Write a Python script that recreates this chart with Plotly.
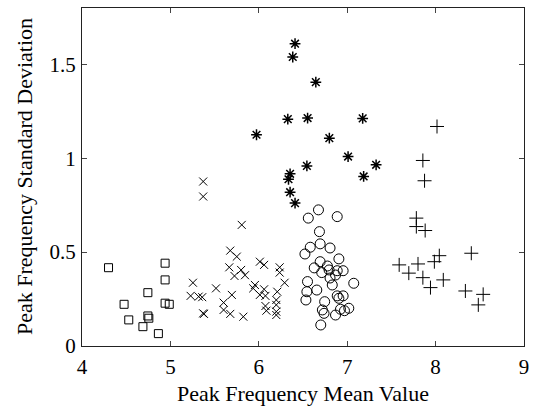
import plotly.graph_objects as go

sq_x = [4.30, 4.94, 4.94, 4.745, 4.476, 4.94, 4.987, 4.529, 4.745, 4.756, 4.689, 4.864]
sq_y = [0.417, 0.441, 0.352, 0.284, 0.222, 0.228, 0.222, 0.139, 0.160, 0.148, 0.103, 0.066]

xm_x = [5.371, 5.371, 5.807, 5.677, 5.751, 5.666, 5.800, 5.725, 5.844, 6.012, 6.060, 6.236,
        6.236, 6.292, 5.255, 5.516, 5.956, 5.937, 6.060, 6.012, 6.209, 5.229, 5.32, 5.36,
        5.695, 5.602, 6.075, 6.198, 6.075, 6.198, 5.602, 5.677, 6.086, 6.198, 5.37, 5.38,
        5.825, 6.198]
xm_y = [0.876, 0.796, 0.645, 0.508, 0.476, 0.419, 0.405, 0.373, 0.377, 0.449, 0.432, 0.419,
        0.391, 0.337, 0.337, 0.307, 0.325, 0.307, 0.302, 0.272, 0.289, 0.267, 0.263, 0.260,
        0.272, 0.231, 0.267, 0.245, 0.213, 0.219, 0.192, 0.171, 0.188, 0.183, 0.174, 0.171,
        0.156, 0.165]

ci_x = [6.675, 6.560, 6.887, 6.686, 6.582, 6.694, 6.522, 6.806, 6.906, 6.694, 6.627, 6.776,
        6.712, 6.795, 6.887, 6.954, 6.868, 6.806, 6.831, 6.551, 7.074, 6.544, 6.656, 6.533,
        6.887, 6.906, 6.954, 6.745, 6.719, 6.738, 6.924, 6.868, 6.969, 7.018, 6.701]
ci_y = [0.725, 0.681, 0.689, 0.609, 0.526, 0.544, 0.490, 0.522, 0.464, 0.449, 0.416, 0.426,
        0.391, 0.405, 0.401, 0.401, 0.378, 0.362, 0.325, 0.343, 0.334, 0.289, 0.298, 0.245,
        0.267, 0.254, 0.267, 0.236, 0.192, 0.174, 0.196, 0.165, 0.188, 0.201, 0.112]

as_x = [6.410, 6.384, 6.645, 6.328, 6.552, 7.175, 5.974, 6.798, 7.010, 7.327, 6.544, 7.186,
        6.354, 6.336, 6.354, 6.410]
as_y = [1.610, 1.539, 1.405, 1.208, 1.214, 1.212, 1.125, 1.107, 1.009, 0.965, 0.959, 0.903,
        0.917, 0.888, 0.819, 0.761]

pl_x = [8.016, 7.856, 7.875, 7.782, 7.782, 7.882, 8.042, 7.986, 8.404, 7.588, 7.801, 7.697,
        7.856, 8.087, 7.942, 8.337, 8.538, 8.483]
pl_y = [1.169, 0.988, 0.880, 0.681, 0.636, 0.615, 0.481, 0.449, 0.494, 0.432, 0.437, 0.388,
        0.364, 0.352, 0.311, 0.293, 0.275, 0.219]

x_ticks = [4, 5, 6, 7, 8, 9]
y_ticks = [0, 0.5, 1, 1.5]
y_tick_text = ["0", "0.5", "1", "1.5"]
x_title = "Peak Frequency Mean Value"
y_title = "Peak Frequency Standard Deviation"

fig = go.Figure()

def add(xs, ys, symbol, size, width=1):
    fig.add_trace(go.Scatter(
        x=xs, y=ys, mode="markers",
        marker=dict(symbol=symbol, size=size, color="black",
                    line=dict(color="black", width=width)),
        showlegend=False, hoverinfo="skip"))

add(sq_x, sq_y, "square-open", 8)
add(xm_x, xm_y, "x-thin-open", 8)
add(ci_x, ci_y, "circle-open", 10)
add(as_x, as_y, "asterisk-open", 9, 1.5)
add(pl_x, pl_y, "cross-thin-open", 10)

tick_font = dict(family="Liberation Serif", size=21, color="black")
title_font = dict(family="Liberation Serif", size=22, color="black")

fig.update_layout(
    width=536, height=406,
    margin=dict(l=82, r=7, t=7, b=60),
    paper_bgcolor="white", plot_bgcolor="white",
    font=tick_font,
    xaxis=dict(range=[4, 9], tickvals=x_ticks, ticks="inside", ticklen=5,
               showline=True, linecolor="#222", linewidth=1.3, mirror="ticks",
               showgrid=False, zeroline=False, ticklabeloverflow="allow",
               tickfont=tick_font, ticklabelstandoff=2),
    yaxis=dict(range=[0, 1.8], tickvals=y_ticks, ticktext=y_tick_text, ticks="inside", ticklen=5,
               showline=True, linecolor="#222", linewidth=1.3, mirror="ticks",
               showgrid=False, zeroline=False, tickfont=tick_font, ticklabelstandoff=1),
    annotations=[
        dict(text=x_title, font=title_font, showarrow=False,
             xref="paper", yref="paper", x=0.5, y=0, xanchor="center", yanchor="middle",
             yshift=-47),
        dict(text=y_title, font=title_font, showarrow=False, textangle=-90,
             xref="paper", yref="paper", x=0, y=0.5, xanchor="center", yanchor="middle",
             xshift=-58),
    ],
)

fig.write_html("out.html", config={"displayModeBar": False},
               post_script="document.body.style.margin='0';")
